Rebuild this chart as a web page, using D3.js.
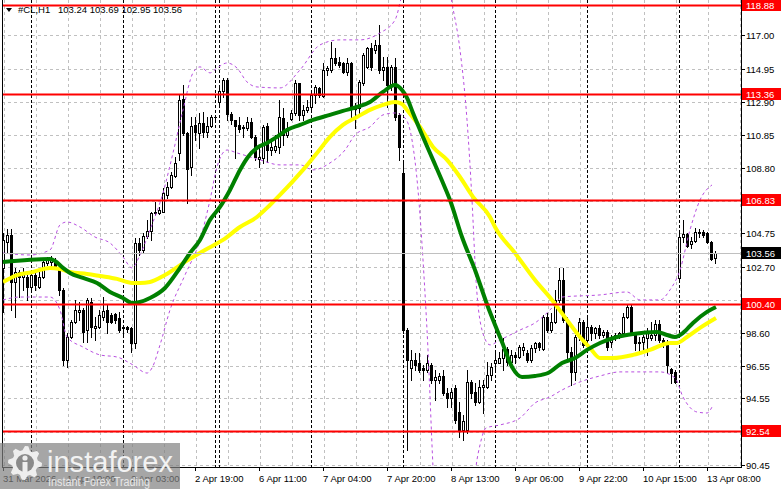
<!DOCTYPE html>
<html><head><meta charset="utf-8">
<script src="https://cdn.jsdelivr.net/npm/d3@7"></script>
<style>html,body{margin:0;padding:0;background:#fff;overflow:hidden}
text{font-family:"Liberation Sans",Arial,sans-serif;}</style>
</head><body><svg id="c" width="781" height="489"></svg>
<script>
// ---------------- DATA ----------------
const symbol = "#CL,H1";
const quote = ["103.24", "103.69", "102.95", "103.56"];

const opens = [
102.62,104.23,104.66,101.75,102.37,102.06,102.06,101.44,102.18,101.44,
102.06,102.93,102.99,103.11,102.62,101.26,96.93,98.35,99.28,99.90,
100.02,98.78,100.51,98.91,98.97,99.59,100.02,99.71,99.77,99.52,
98.97,98.97,98.91,97.98,104.16,103.73,104.60,104.90,106.02,106.02,
106.09,107.13,107.63,108.31,109.73,113.07,110.96,108.86,111.46,110.96,
111.58,111.03,111.40,111.95,112.88,113.56,114.24,112.14,111.77,111.46,
111.27,111.27,111.65,110.72,109.36,109.42,111.40,109.91,109.91,110.10,
111.89,110.84,111.83,112.20,114.06,112.08,112.39,112.57,113.32,113.75,
113.25,114.86,114.86,115.60,115.36,115.29,114.74,115.29,112.63,112.51,
114.06,115.05,116.22,116.10,116.41,114.86,115.05,113.93,115.05,112.08,
108.49,98.78,96.43,96.93,96.74,96.43,96.31,96.62,95.69,95.69,
95.94,94.89,94.58,95.20,93.71,92.60,92.60,95.57,94.95,94.33,
95.26,95.26,96.00,96.74,96.74,97.05,97.61,96.80,97.24,97.11,
97.55,97.36,96.93,97.67,97.98,97.61,99.59,98.78,99.28,100.64,
101.87,99.40,97.42,96.19,98.35,99.28,98.16,98.97,98.60,98.91,
98.47,98.66,98.04,98.29,98.41,98.60,99.59,100.20,98.60,98.04,
98.04,98.29,98.29,98.47,99.15,98.16,97.98,96.37,96.19,102.00,
104.53,104.72,104.10,104.29,104.84,104.84,104.78,104.22,103.24];

const highs = [
104.78,105.03,105.03,102.62,102.49,102.62,102.18,102.49,102.31,102.62,
103.17,103.30,103.36,103.23,102.74,101.38,98.60,99.40,100.64,100.51,
100.14,100.76,100.76,99.59,100.02,100.82,100.33,99.83,99.83,99.90,
99.03,99.03,98.97,104.47,104.47,104.78,105.59,106.09,106.70,106.39,
107.56,107.94,108.55,109.48,113.32,113.93,111.03,111.95,111.95,112.20,
112.26,111.95,112.08,112.08,113.93,114.37,114.37,112.26,111.77,111.95,
111.46,111.95,111.89,110.84,110.10,111.46,111.58,110.66,110.84,113.01,
112.51,111.65,112.39,114.24,114.06,112.70,113.01,113.44,113.93,113.81,
115.29,115.10,116.59,116.22,115.67,115.36,115.60,115.36,112.82,114.24,
115.91,116.28,116.53,116.72,117.64,115.67,115.67,115.17,115.60,112.20,
109.11,98.91,97.55,97.36,97.36,96.62,97.24,96.74,96.31,96.12,
96.31,95.20,95.20,95.38,94.33,93.53,96.31,95.69,95.50,95.69,
95.69,96.80,96.74,97.55,97.42,98.29,97.73,97.55,97.42,97.86,
97.98,97.55,97.86,98.04,98.04,99.71,99.83,99.83,101.26,102.62,
102.62,99.59,97.73,98.47,99.52,99.40,99.52,99.09,98.97,99.09,
98.78,98.78,98.47,98.60,98.66,99.83,100.33,100.33,98.66,98.35,
98.47,98.91,99.28,99.40,99.40,98.29,98.16,96.43,96.31,104.78,
105.59,104.78,104.53,105.09,105.03,104.96,104.84,104.29,103.69];

const lows = [
99.90,103.54,100.02,99.59,100.82,101.26,100.64,101.26,101.26,101.38,
101.99,102.80,102.68,102.62,100.95,96.62,96.49,98.29,99.22,99.40,
98.04,98.04,98.35,98.16,98.91,99.40,98.60,99.22,99.22,98.66,
98.47,98.66,97.42,97.67,103.42,103.61,104.47,104.35,105.89,105.96,
106.09,106.95,107.56,108.25,109.30,110.84,106.64,108.37,110.53,110.04,
110.72,110.72,111.34,111.77,112.57,113.19,111.77,111.52,109.42,111.03,
110.72,111.15,110.66,109.30,108.86,109.11,109.17,109.60,109.79,109.73,
110.22,110.72,111.77,112.08,111.77,111.77,112.26,112.39,112.82,113.19,
113.19,114.55,114.74,115.17,115.05,114.67,114.55,111.95,111.27,112.20,
113.93,114.98,114.86,115.91,114.67,114.24,112.57,113.62,111.77,109.30,
98.60,91.36,95.69,96.31,96.19,95.69,96.19,95.50,94.45,95.50,
94.76,94.02,94.02,93.03,92.17,91.98,92.41,94.58,94.14,94.27,
93.65,95.20,95.69,96.31,96.74,96.31,96.62,96.62,96.74,97.05,
97.24,96.80,96.80,97.42,97.55,97.55,98.66,98.66,99.22,100.51,
99.28,96.80,95.38,95.69,98.16,97.73,98.04,98.16,98.29,98.29,
98.35,97.55,97.73,98.16,98.29,98.47,99.52,98.47,97.55,97.42,
97.42,97.24,98.16,98.16,98.04,97.73,96.12,95.50,95.50,101.87,
104.22,103.92,103.85,104.22,104.53,104.53,104.16,103.11,102.95];

const closes = [
104.35,104.66,101.75,102.37,102.06,102.37,101.44,102.18,101.57,102.06,
102.99,103.17,103.17,102.74,101.26,96.93,98.35,99.28,100.02,100.02,
98.66,100.64,98.97,99.03,99.71,99.96,99.28,99.28,99.40,98.78,
98.91,98.84,97.98,104.16,103.73,104.60,104.90,106.02,106.09,106.20,
107.26,107.63,108.37,109.11,113.01,110.96,108.74,111.40,111.03,111.58,
111.03,111.40,111.95,111.95,113.56,114.24,112.14,111.77,111.40,111.21,
111.34,111.65,110.72,109.48,109.48,111.34,109.91,110.10,110.16,111.95,
110.84,111.27,112.20,114.06,112.08,112.39,112.57,113.32,113.81,113.32,
114.86,114.98,115.60,115.29,115.17,114.74,115.29,112.51,112.45,114.12,
115.79,116.22,115.05,116.41,114.86,115.05,113.93,115.05,111.95,110.10,
98.78,96.93,96.93,96.62,96.31,96.31,96.74,95.69,95.88,95.94,
94.89,94.58,94.95,93.22,92.60,93.15,95.57,94.89,94.33,95.26,
95.38,96.00,96.50,96.93,97.05,97.61,96.80,97.24,97.11,97.73,
97.73,96.93,97.67,97.98,97.73,99.59,98.78,99.28,100.64,101.87,
99.40,97.42,96.19,98.35,99.28,97.86,98.97,98.60,98.91,98.47,
98.66,97.73,98.35,98.47,98.60,99.59,100.20,98.60,97.98,97.98,
98.35,98.60,98.47,99.15,98.16,97.86,96.62,96.12,95.57,104.53,
104.72,103.98,104.29,104.84,104.78,104.66,104.22,103.17,103.56];

// time axis (bar index of each label) and day separators
const timeTickBars = [0,16,32,48,64,80,96,112,128,144,160,176];
const timeTickLabels = ["31 Mar 2026","1 Apr 10:00","2 Apr 03:00","2 Apr 19:00","6 Apr 11:00","7 Apr 04:00",
  "7 Apr 20:00","8 Apr 13:00","9 Apr 06:00","9 Apr 22:00","10 Apr 15:00","13 Apr 08:00"];
const daySeparatorBars = [7,30,53,54,77,100,123,146,169];

// price axis
const priceTicks = [117.00,114.95,112.90,110.85,108.80,106.75,104.75,102.70,100.65,98.60,96.55,94.55,92.50,90.45];
const levelValues = [118.88,113.36,106.83,100.40,92.54];
const lastPrice = 103.56;

// moving averages [bar, price]
const maFast = [[0,102.99],[11.75,103.17],[13,103.05],[15,102.62],[16.75,102.31],[20,102.00],[23.5,101.69],
 [26.75,101.13],[30,100.76],[32.25,100.45],[34.25,100.51],[36.75,100.76],[40.5,101.38],[44.25,102.62],
 [46.75,103.54],[49.25,104.35],[51.75,105.59],[54.25,106.39],[56.75,107.44],[59.25,108.68],[61.25,109.48],
 [63.5,110.04],[66,110.35],[68.5,110.72],[71,111.15],[74.25,111.46],[77.5,111.77],[81.75,112.08],[85,112.33],
 [88.5,112.57],[91.75,112.88],[95,113.50],[98,113.93],[99.75,113.62],[101,113.13],[102.5,112.20],[105,110.72],
 [107.5,109.30],[110,107.87],[111.75,106.82],[114.75,104.53],[118,102.49],[121.25,100.20],[124.75,98.04],
 [127.25,96.50],[129.75,95.88],[133,95.94],[136.25,96.12],[139.75,96.74],[143,97.05],[146,97.55],[149.25,97.98],
 [153.5,98.35],[157.5,98.54],[163.5,98.66],[166,98.47],[168,98.35],[170,98.60],[172.5,99.22],[176,99.90],[178.25,100.20]];
const maSlow = [[0,101.75],[3.5,102.18],[7.5,102.37],[11.75,102.62],[14.25,102.55],[16.75,102.37],[21,102.25],
 [24.25,102.12],[28.5,101.94],[32.25,101.69],[34.25,101.69],[36.75,101.75],[40.5,102.18],[45.5,102.99],
 [50.5,103.73],[55,104.35],[59.25,105.15],[63.5,105.77],[66.75,106.51],[69.25,107.13],[75,108.68],[78.5,109.73],
 [81.75,110.72],[85,111.46],[88.5,111.95],[91.75,112.39],[95,112.70],[98,112.88],[99.75,112.76],[101,112.39],
 [104.25,111.34],[107.5,110.10],[111,109.30],[114.25,108.24],[117.5,107.01],[121.75,105.77],[123,105.15],
 [128,103.54],[133,101.87],[137.25,100.64],[141,99.40],[144.25,98.35],[146.75,97.67],[149.25,97.05],
 [152.5,97.05],[157.5,97.24],[161.75,97.55],[166.75,97.98],[168.5,97.98],[171,98.35],[174.25,98.91],[178.25,99.52]];
// envelope bands [bar, price]
const bandUpper = [[0,103.54],[6.75,103.42],[11.75,103.73],[14.25,105.28],[16,105.46],[19.25,105.15],[23,104.53],
 [26.75,104.16],[30,103.30],[32.25,102.62],[34.25,103.42],[36.75,104.97],[40,107.26],[42.5,109.73],[45,112.39],
 [47.5,114.68],[49.25,115.05],[51.75,114.68],[53.5,114.98],[56,115.29],[58.5,114.98],[61,114.12],[63.5,113.81],
 [69.25,113.75],[74.25,114.86],[79.25,116.41],[84.25,116.72],[89.25,116.72],[94.25,117.15],[98,117.95],
 [100,119.81],[104.25,124.14],[109.25,122.9],[112.25,119.00],[114.25,116.10],[116,111.77],[117.25,106.82],
 [118.25,101.87],[119.75,98.78],[121.75,97.86],[124.25,98.16],[129.25,98.78],[133,99.22],[136.75,100.02],
 [139.75,100.82],[149.25,100.95],[156,101.13],[159.25,100.64],[164.25,100.64],[166.75,101.26],[169.25,102.49],
 [171.75,104.97],[174.25,106.82],[177.25,107.75]];
const bandLower = [[0,100.64],[4.25,100.82],[11.75,100.82],[14.25,100.02],[16,98.35],[20,97.73],[24.25,97.24],
 [28.5,97.11],[32.5,96.62],[36,96.12],[37.25,96.43],[39.25,97.86],[41.75,100.02],[45.5,102.18],[49.25,104.35],
 [51.75,106.82],[53.5,108.86],[56,109.91],[58.5,109.73],[64.25,109.30],[69.25,108.99],[74.25,108.99],
 [77.5,108.68],[81.75,109.11],[85.5,109.91],[88,110.84],[91.75,111.34],[95,112.08],[98,112.20],[100.5,111.89],
 [102.25,110.53],[103.75,107.44],[105,103.11],[106.25,97.55],[107.5,90.31],[108.5,85.8],[116.75,85.8],
 [118.25,90.31],[119.25,91.67],[120.75,92.72],[124.25,92.91],[129.25,93.34],[133,94.27],[136.75,94.64],
 [139.75,95.07],[144.25,95.57],[149.25,95.94],[154.25,96.19],[164.25,96.19],[168,95.82],[170,94.64],
 [173.5,93.71],[176,93.65],[177.5,94.14]];

// ---------------- DRAWING ----------------
const svg = d3.select("#c");
const L = 2, R = 741, T = 0, B = 467;
const x = d3.scaleLinear().domain([0, 184.5]).range([3, 741]);
const y = d3.scaleLinear().domain([90.31, 119.0]).range([467, 3]);
const px = v => Math.round(x(v));
const py = v => Math.round(y(v));

svg.append("rect").attr("width",781).attr("height",489).attr("fill","#fff");
svg.append("defs").append("clipPath").attr("id","clip")
  .append("rect").attr("x",L).attr("y",T).attr("width",R-L).attr("height",B-T);
const plot = svg.append("g").attr("clip-path","url(#clip)");

// grid
plot.append("g").selectAll("line").data(priceTicks).join("line")
  .attr("x1",L).attr("x2",R).attr("y1",d=>py(d)+0.5).attr("y2",d=>py(d)+0.5)
  .attr("stroke","#c0c0c0").attr("stroke-dasharray","3,3");
plot.append("g").selectAll("line").data(d3.range(0,185,8)).join("line")
  .attr("x1",d=>px(d)+1.5).attr("x2",d=>px(d)+1.5).attr("y1",T).attr("y2",B)
  .attr("stroke","#c0c0c0").attr("stroke-dasharray","3,3");
// day separators
plot.append("g").selectAll("line").data(daySeparatorBars).join("line")
  .attr("x1",d=>px(d)+0.5).attr("x2",d=>px(d)+0.5).attr("y1",T).attr("y2",B)
  .attr("stroke","#000").attr("stroke-dasharray","3,2");

// candles
const bars = opens.map((o,i)=>({i,o,h:highs[i],l:lows[i],c:closes[i]}));
const cg = plot.append("g");
bars.forEach(b=>{
  const cx = px(b.i);
  const hi = Math.max(b.h,b.o,b.c), lo = Math.min(b.l,b.o,b.c);
  cg.append("line").attr("x1",cx+0.5).attr("x2",cx+0.5).attr("y1",py(hi)).attr("y2",py(lo)+1)
    .attr("stroke","#000").attr("stroke-width",1);
  const top = py(Math.max(b.o,b.c)), bot = py(Math.min(b.o,b.c));
  if (b.c < b.o) {
    cg.append("rect").attr("x",cx-1).attr("y",top).attr("width",3).attr("height",Math.max(1,bot-top+1)).attr("fill","#000");
  } else if (bot-top < 1) {
    cg.append("rect").attr("x",cx-1).attr("y",top).attr("width",3).attr("height",1).attr("fill","#000");
  } else {
    cg.append("rect").attr("x",cx-0.5).attr("y",top+0.5).attr("width",2).attr("height",bot-top)
      .attr("fill","#fff").attr("stroke","#000").attr("stroke-width",1);
  }
});

// bands
const lineGen = d3.line().x(d=>x(d[0])).y(d=>y(d[1])).curve(d3.curveMonotoneX);
[bandUpper, bandLower].forEach(band=>{
  plot.append("path").attr("d",lineGen(band)).attr("fill","none")
    .attr("stroke","#b84fe0").attr("stroke-width",1).attr("stroke-dasharray","3,3");
});
// moving averages
plot.append("path").attr("d",lineGen(maSlow)).attr("fill","none").attr("stroke","#ffff00").attr("stroke-width",4);
plot.append("path").attr("d",lineGen(maFast)).attr("fill","none").attr("stroke","#008000").attr("stroke-width",4);

// bid line
plot.append("line").attr("x1",L).attr("x2",R).attr("y1",py(lastPrice)+0.5).attr("y2",py(lastPrice)+0.5)
  .attr("stroke","#c0c0c0");
// level lines
plot.append("g").selectAll("line").data(levelValues).join("line")
  .attr("x1",L).attr("x2",R).attr("y1",d=>py(d)+0.5).attr("y2",d=>py(d)+0.5)
  .attr("stroke","#ff0000").attr("stroke-width",2);

// frame
svg.append("line").attr("x1",2.5).attr("x2",2.5).attr("y1",0).attr("y2",B+1).attr("stroke","#000");
svg.append("line").attr("x1",R+0.5).attr("x2",R+0.5).attr("y1",0).attr("y2",B+1).attr("stroke","#000");
svg.append("line").attr("x1",2).attr("x2",R+1).attr("y1",B+0.5).attr("y2",B+0.5).attr("stroke","#000");

// price axis labels
const fs = "9.5px";
const ax = svg.append("g");
ax.selectAll("line").data(priceTicks).join("line")
  .attr("x1",R).attr("x2",R+4).attr("y1",d=>py(d)+0.5).attr("y2",d=>py(d)+0.5).attr("stroke","#000");
ax.selectAll("text").data(priceTicks).join("text")
  .attr("x",746).attr("y",d=>py(d)+4).attr("font-size",fs).attr("fill","#000")
  .text(d=>d.toFixed(2));
// level boxes
const lb = svg.append("g").selectAll("g").data(levelValues).join("g");
lb.append("rect").attr("x",742).attr("y",d=>py(d)-6).attr("width",39).attr("height",12).attr("fill","#ff0000");
lb.append("text").attr("x",746).attr("y",d=>py(d)+4).attr("font-size",fs).attr("fill","#fff").text(d=>d.toFixed(2));
// last price box
svg.append("rect").attr("x",742).attr("y",py(lastPrice)-6).attr("width",39).attr("height",12).attr("fill","#000");
svg.append("text").attr("x",746).attr("y",py(lastPrice)+4).attr("font-size",fs).attr("fill","#fff").text(lastPrice.toFixed(2));

// time axis
const tx = svg.append("g");
tx.selectAll("line").data(timeTickBars).join("line")
  .attr("x1",d=>px(d)+0.5).attr("x2",d=>px(d)+0.5).attr("y1",B).attr("y2",B+4).attr("stroke","#000");
tx.selectAll("text").data(timeTickBars).join("text")
  .attr("x",d=>px(d)).attr("y",482).attr("font-size",fs).attr("fill","#000")
  .text((d,i)=>timeTickLabels[i]);

// header
svg.append("path").attr("d","M6,8 L12,8 L9,12 Z").attr("fill","#000");
svg.append("text").attr("x",18).attr("y",13).attr("font-size",fs).attr("fill","#000").text(symbol);
svg.append("text").attr("x",58).attr("y",13).attr("font-size",fs).attr("fill","#000").text(quote.join(" "));

// watermark
const wm = svg.append("g");
wm.append("rect").attr("x",0).attr("y",443).attr("width",180).attr("height",46).attr("fill","#808080").attr("opacity",0.7);
const gcx=25, gcy=463, teeth=8;
let gp = [];
for (let k=0;k<teeth*4;k++){
  const a = (k/(teeth*4))*Math.PI*2;
  const r = (k%4<2)?17:13;
  gp.push([gcx+r*Math.cos(a), gcy+r*Math.sin(a)]);
}
wm.append("path").attr("d","M"+gp.map(p=>p.join(",")).join("L")+"Z").attr("fill","#eee");
wm.append("circle").attr("cx",gcx).attr("cy",gcy).attr("r",9).attr("fill","#8a8a8a");
wm.append("circle").attr("cx",gcx).attr("cy",gcy-5).attr("r",2.6).attr("fill","#eee");
wm.append("rect").attr("x",gcx-2.5).attr("y",gcy-1).attr("width",5).attr("height",10).attr("fill","#eee");
wm.append("text").attr("x",47).attr("y",472).attr("font-size","30px").attr("fill","#f2f2f2")
  .attr("textLength",126).attr("lengthAdjust","spacingAndGlyphs").text("instaforex");
wm.append("text").attr("x",48).attr("y",486).attr("font-size","12.5px").attr("fill","#e6e6e6")
  .attr("textLength",102).attr("lengthAdjust","spacingAndGlyphs").text("Instant Forex Trading");
</script></body></html>
